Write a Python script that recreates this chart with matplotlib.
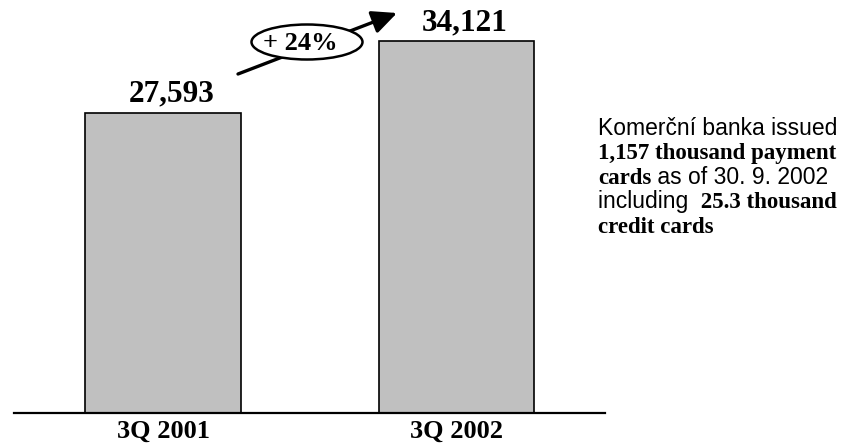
import matplotlib
matplotlib.use("Agg")
import matplotlib.pyplot as plt
from matplotlib.patches import Ellipse

# Počet platebních karet (kusy)
periods = ["3Q 2001", "3Q 2002"]
cards = [27593, 34121]
growth_label = "+ 24%"

# Poznámka vpravo: řádky složené z (text, tučně?)
note_lines = [
    [("Komerční banka issued", False)],
    [("1,157 thousand payment", True)],
    [("cards", True), (" as of 30. 9. 2002", False)],
    [("including ", False), (" 25.3 thousand", True)],
    [("credit cards", True)],
]

serif = "Liberation Serif"
sans = "Liberation Sans"

W, H = 850, 447
fig = plt.figure(figsize=(W / 100, H / 100), dpi=100)
ax = fig.add_axes([14 / W, (H - 412.7) / H, (605 - 14) / W, 412.7 / H])

x = range(len(periods))
bars = ax.bar(x, cards, width=0.532, color="#c0c0c0", edgecolor="black", linewidth=1.2, zorder=2)

for b, v in zip(bars, cards):
    ax.annotate(f"{v:,}", xy=(b.get_x() + b.get_width() / 2, v), xytext=(6, 8),
                textcoords="offset points", ha="center", va="baseline",
                fontsize=22.5, fontweight="bold", family=serif)

ax.set_xlim(-0.51, 1.507)
ax.set_ylim(0, 37935)
ax.set_xticks(list(x))
ax.set_xticklabels(periods, fontsize=19, fontweight="bold", family=serif)
ax.tick_params(axis="x", length=0, pad=5)
ax.set_yticks([])
for side in ["top", "left", "right"]:
    ax.spines[side].set_visible(False)
ax.spines["bottom"].set_linewidth(1.6)
ax.patch.set_visible(False)

# šipka růstu s elipsou
ax.annotate("", xy=(397, H - 13), xytext=(238, H - 74), xycoords="figure pixels",
            textcoords="figure pixels",
            arrowprops=dict(arrowstyle="-|>,head_length=0.75,head_width=0.35", lw=2.4,
                            color="black", mutation_scale=20, shrinkA=0, shrinkB=0))
ell = Ellipse((307 / W, 1 - 42 / H), 111 / W, 35 / H, transform=fig.transFigure,
              facecolor="white", edgecolor="black", linewidth=1.8, zorder=5)
fig.patches.append(ell)
fig.text(300 / W, 1 - 43 / H, growth_label, ha="center", va="center", fontsize=19,
         fontweight="bold", family=serif, zorder=6)

# poznámka vpravo, kousky textu řazené za sebou
renderer = fig.canvas.get_renderer()
y0 = 135
for i, line in enumerate(note_lines):
    xpos = 598
    ypos = y0 + i * 24.5
    for txt, bold in line:
        if bold:
            t = fig.text(xpos / W, 1 - ypos / H, txt, ha="left", va="baseline",
                         fontsize=16.5, fontweight="bold", family=serif)
        else:
            t = fig.text(xpos / W, 1 - ypos / H, txt, ha="left", va="baseline",
                         fontsize=16.5, family=sans)
        xpos += t.get_window_extent(renderer).width

fig.savefig("out.png", dpi=100)
